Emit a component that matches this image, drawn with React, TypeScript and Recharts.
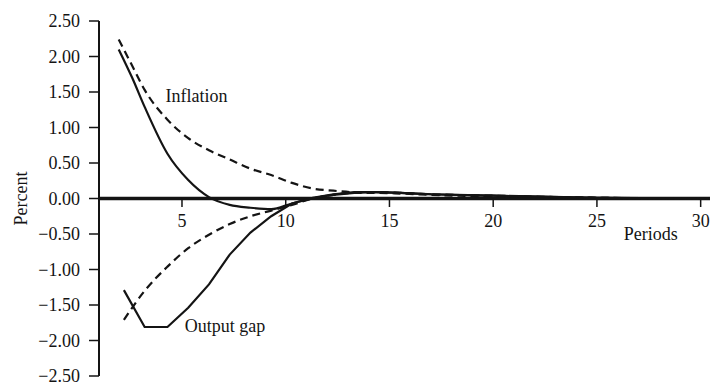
import {
  LineChart,
  Line,
  XAxis,
  YAxis,
  ReferenceLine,
  ReferenceDot,
  Label,
} from "recharts";

const INK = "#141414";
const FONT = "'Liberation Serif', 'DejaVu Serif', serif";

// inflation paths (solid and dashed) share these periods
const INFLATION_PERIODS = [1.95, 2.6, 3.2, 4.3, 5.3, 6.3, 7.3, 8.3, 9.3, 10.3, 11.3, 12.3, 13.3, 14.3, 15.5, 17, 20, 25, 30.4];
const INFLATION_SOLID = [2.1, 1.7, 1.29, 0.63, 0.26, 0.02, -0.09, -0.13, -0.15, -0.07, 0.0, 0.05, 0.08, 0.09, 0.08, 0.06, 0.04, 0.01, 0];
const INFLATION_DASHED = [2.24, 1.87, 1.53, 1.11, 0.85, 0.68, 0.55, 0.42, 0.33, 0.22, 0.14, 0.11, 0.09, 0.09, 0.08, 0.06, 0.04, 0.01, 0];

// output gap paths
const GAP_PERIODS = [2.2, 3.2, 4.3, 5.3, 6.3, 7.3, 8.3, 9.3, 10.3, 11.3, 12.3, 13.3, 14.3, 15.5, 17, 20, 25, 30.4];
const GAP_SOLID = [-1.29, -1.81, -1.81, -1.54, -1.21, -0.79, -0.48, -0.25, -0.07, 0.01, 0.06, 0.09, 0.09, 0.08, 0.06, 0.04, 0.01, 0];
const GAP_DASHED = [-1.71, -1.3, -0.96, -0.7, -0.51, -0.36, -0.25, -0.17, -0.09, 0.0, 0.05, 0.08, 0.08, 0.07, 0.05, 0.03, 0.01, 0];

const X_TICKS = [5, 10, 15, 20, 25, 30];
const Y_TICKS = [-2.5, -2, -1.5, -1, -0.5, 0, 0.5, 1, 1.5, 2, 2.5];

const toRows = (xs: number[], ys: number[]) => xs.map((x, i) => ({ x, v: ys[i] }));

const fmtY = (v: number) => (v < 0 ? "\u2212" + Math.abs(v).toFixed(2) : v.toFixed(2));

const textStyle = { fontFamily: FONT, fontSize: 18, fill: INK };

export default function App() {
  return (
    <div style={{ position: "absolute", left: 0, top: 0, background: "#fff" }}>
      <LineChart
        width={710}
        height={387}
        margin={{ top: 21, right: 0, bottom: 11, left: 0 }}
      >
        <XAxis type="number" dataKey="x" domain={[1, 30.45]} hide allowDataOverflow />
        <YAxis
          type="number"
          domain={[-2.5, 2.5]}
          ticks={Y_TICKS}
          interval={0}
          tickFormatter={fmtY}
          width={99}
          tickSize={10}
          tickMargin={9}
          axisLine={{ stroke: INK, strokeWidth: 2 }}
          tickLine={{ stroke: INK, strokeWidth: 1.5 }}
          tick={textStyle}
        >
          <Label
            value="Percent"
            angle={-90}
            position="insideLeft"
            offset={21}
            style={{ ...textStyle, textAnchor: "middle" }}
          />
        </YAxis>

        <ReferenceLine y={0} stroke={INK} strokeWidth={3.5} />
        {X_TICKS.map((t) => (
          <ReferenceLine
            key={"t" + t}
            segment={[
              { x: t, y: 0 },
              { x: t, y: -0.12 },
            ]}
            stroke={INK}
            strokeWidth={1.5}
          />
        ))}
        {X_TICKS.map((t) => (
          <ReferenceDot key={"l" + t} x={t} y={0} r={0} stroke="none" fill="none">
            <Label value={String(t)} position="bottom" offset={16} style={textStyle} />
          </ReferenceDot>
        ))}

        <Line
          data={toRows(INFLATION_PERIODS, INFLATION_DASHED)}
          dataKey="v"
          type="monotone"
          stroke={INK}
          strokeWidth={2.2}
          strokeDasharray="8 5"
          dot={false}
          isAnimationActive={false}
        />
        <Line
          data={toRows(INFLATION_PERIODS, INFLATION_SOLID)}
          dataKey="v"
          type="monotone"
          stroke={INK}
          strokeWidth={2.2}
          dot={false}
          isAnimationActive={false}
        />
        <Line
          data={toRows(GAP_PERIODS, GAP_DASHED)}
          dataKey="v"
          type="monotone"
          stroke={INK}
          strokeWidth={2.2}
          strokeDasharray="8 5"
          dot={false}
          isAnimationActive={false}
        />
        <Line
          data={toRows(GAP_PERIODS, GAP_SOLID)}
          dataKey="v"
          type="linear"
          stroke={INK}
          strokeWidth={2.2}
          dot={false}
          isAnimationActive={false}
        />

        <ReferenceDot x={5.7} y={1.45} r={0} stroke="none" fill="none">
          <Label value="Inflation" position="center" style={textStyle} />
        </ReferenceDot>
        <ReferenceDot x={7.07} y={-1.79} r={0} stroke="none" fill="none">
          <Label value="Output gap" position="center" style={textStyle} />
        </ReferenceDot>
        <ReferenceDot x={27.6} y={0} r={0} stroke="none" fill="none">
          <Label value="Periods" position="bottom" offset={29} style={textStyle} />
        </ReferenceDot>
      </LineChart>
    </div>
  );
}
